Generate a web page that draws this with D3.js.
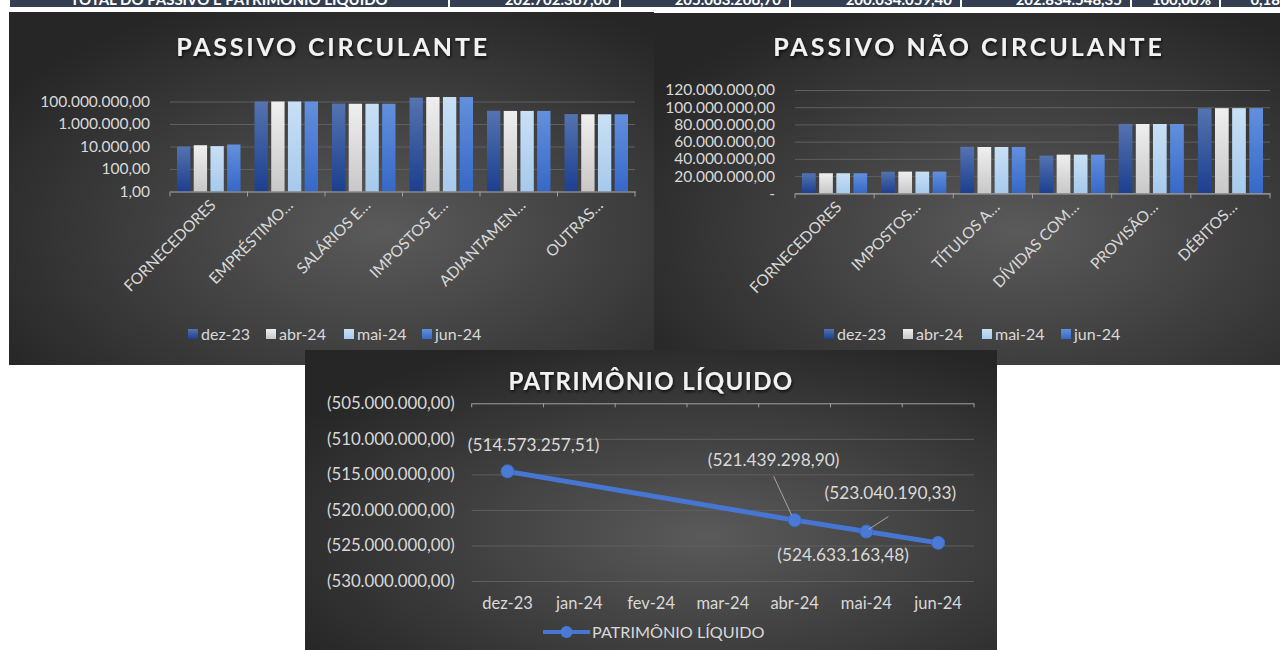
<!DOCTYPE html>
<html>
<head>
<meta charset="utf-8">
<script src="https://cdn.jsdelivr.net/npm/d3@7"></script>
<style>
  body { margin: 0; background: #fff; overflow: hidden; }
  svg { display: block; font-family: Lato, "Open Sans", sans-serif; }
</style>
</head>
<body>
<svg id="chart" width="1280" height="650"></svg>
<script>
// ---- data ----
const series = ["dez-23", "abr-24", "mai-24", "jun-24"];

const circCats = ["FORNECEDORES", "EMPRÉSTIMO…", "SALÁRIOS E…", "IMPOSTOS E…", "ADIANTAMEN…", "OUTRAS…"];
const circDez = [10000, 100000000, 65000000, 220000000, 15000000, 7600000];
const circAbr = [13000, 100000000, 63000000, 250000000, 14500000, 7300000];
const circMai = [10800, 100000000, 63000000, 250000000, 14500000, 7300000];
const circJun = [15000, 100000000, 63000000, 250000000, 14500000, 7300000];
const circTicks = [1, 100, 10000, 1000000, 100000000];

const naoCats = ["FORNECEDORES", "IMPOSTOS…", "TÍTULOS A…", "DÍVIDAS COM…", "PROVISÃO…", "DÉBITOS…"];
const naoDez = [23300000, 25100000, 54000000, 43700000, 80600000, 98800000];
const naoAbr = [23300000, 25200000, 53800000, 44900000, 80500000, 98900000];
const naoMai = [23300000, 25200000, 53800000, 44900000, 80500000, 98900000];
const naoJun = [23300000, 25200000, 53800000, 44900000, 80500000, 98900000];
const naoTicks = [0, 20000000, 40000000, 60000000, 80000000, 100000000, 120000000];

const plMonths = ["dez-23", "jan-24", "fev-24", "mar-24", "abr-24", "mai-24", "jun-24"];
const plValues = [-514573257.51, null, null, null, -521439298.90, -523040190.33, -524633163.48];
const plTicks = [-505000000, -510000000, -515000000, -520000000, -525000000, -530000000];

// remnant of the table row above the charts (only its lower edge is in the picture)
const topRowTexts = ["TOTAL DO PASSIVO E PATRIMÔNIO LÍQUIDO", "202.702.367,00", "205.063.206,70",
  "200.034.059,40", "202.834.548,35", "100,00%", "0,18"];
const topRowEdges = [10, 450, 621, 791, 962, 1132, 1221, 1290];

// ---- helpers ----
const br = d3.formatLocale({decimal: ",", thousands: ".", grouping: [3], currency: ["R$ ", ""]});
const f2 = br.format(",.2f");
const acc = v => v === 0 ? "-" : (v < 0 ? "(" + f2(-v) + ")" : f2(v));

const svg = d3.select("#chart");
const defs = svg.append("defs");

const bg = defs.append("radialGradient").attr("id", "bg")
  .attr("cx", "58%").attr("cy", "62%").attr("r", "70%");
bg.append("stop").attr("offset", "0%").attr("stop-color", "#5a5a5a");
bg.append("stop").attr("offset", "100%").attr("stop-color", "#262626");

const barColors = [["#5573b0", "#1c3f8f"], ["#efefef", "#c8c8c8"], ["#c9e0f5", "#a6c9ec"], ["#6390dc", "#3668c8"]];
barColors.forEach((c, i) => {
  const g = defs.append("linearGradient").attr("id", "bar" + i)
    .attr("x1", 0).attr("y1", 0).attr("x2", 0).attr("y2", 1);
  g.append("stop").attr("offset", "0%").attr("stop-color", c[0]);
  g.append("stop").attr("offset", "100%").attr("stop-color", c[1]);
});

const shadow = defs.append("filter").attr("id", "shadow")
  .attr("x", "-10%").attr("y", "-30%").attr("width", "120%").attr("height", "160%");
shadow.append("feDropShadow").attr("dx", 1).attr("dy", 2).attr("stdDeviation", 1.5)
  .attr("flood-color", "#000").attr("flood-opacity", 0.7);

const txt = "#d9d9d9", grid = "#5f5f5f", axisCol = "#a0a0a0";

// ---- table row strip at the very top ----
const strip = svg.append("g");
strip.append("clipPath").attr("id", "stripClip").append("rect")
  .attr("x", 0).attr("y", 0).attr("width", 1280).attr("height", 7);
const cells = strip.append("g").attr("clip-path", "url(#stripClip)");
topRowTexts.forEach((t, i) => {
  const x0 = topRowEdges[i], x1 = topRowEdges[i + 1] - 2;
  cells.append("rect").attr("x", x0).attr("y", -10).attr("width", x1 - x0).attr("height", 17)
    .attr("fill", "#333f50");
  cells.append("text")
    .attr("x", i === 0 ? (x0 + x1) / 2 : x1 - 8).attr("y", 4.5)
    .attr("text-anchor", i === 0 ? "middle" : "end")
    .attr("fill", "#fff").attr("font-size", 15).attr("font-weight", 700)
    .text(t);
});

// ---- bar chart panels ----
function barPanel(cfg) {
  const g = svg.append("g");
  g.append("rect").attr("x", cfg.box[0]).attr("y", cfg.box[1])
    .attr("width", cfg.box[2]).attr("height", cfg.box[3]).attr("fill", "url(#bg)");

  g.append("text").attr("x", cfg.titleX).attr("y", cfg.titleY)
    .attr("text-anchor", "middle").attr("fill", "#f2f2f2")
    .attr("font-size", 25).attr("font-weight", 700).attr("letter-spacing", cfg.titleSpacing)
    .attr("filter", "url(#shadow)").text(cfg.title);

  const [px0, px1, py0, py1] = cfg.plot;
  const y = cfg.y;
  const x0 = d3.scaleBand().domain(cfg.cats).range([px0, px1]);
  const x1 = d3.scaleBand().domain(series)
    .range([7, x0.step() - 7]).paddingInner(0.2);

  // gridlines + y labels
  const yAxis = g.append("g").attr("transform", `translate(${px0},0)`)
    .call(d3.axisLeft(y).tickValues(cfg.ticks).tickFormat(acc)
      .tickSize(-(px1 - px0)).tickPadding(20));
  yAxis.select(".domain").remove();
  yAxis.selectAll(".tick line").attr("stroke", grid);
  yAxis.selectAll(".tick text").attr("fill", txt).attr("font-size", 15.5)
    .attr("font-family", "Lato, sans-serif");

  const data = cfg.cats.map((c, i) => ({cat: c, vals: cfg.values.map(a => a[i])}));
  const grp = g.selectAll(".grp").data(data).join("g")
    .attr("transform", d => `translate(${x0(d.cat)},0)`);
  grp.selectAll("rect").data(d => d.vals.map((v, k) => ({s: series[k], k, v})))
    .join("rect")
    .attr("x", d => x1(d.s)).attr("width", x1.bandwidth())
    .attr("y", d => y(d.v)).attr("height", d => py1 - y(d.v))
    .attr("fill", d => `url(#bar${d.k})`);

  // category axis
  const xAxis = g.append("g").attr("transform", `translate(0,${py1})`)
    .call(d3.axisBottom(x0).tickSize(0).tickFormat(""));
  xAxis.select(".domain").attr("stroke", axisCol).attr("stroke-width", 1.2);
  xAxis.selectAll(".tick").remove();
  xAxis.selectAll(".bound").data(d3.range(cfg.cats.length + 1)).join("line")
    .attr("x1", i => px0 + i * x0.step()).attr("x2", i => px0 + i * x0.step())
    .attr("y1", 0).attr("y2", 5).attr("stroke", axisCol);
  g.selectAll(".catlab").data(cfg.cats).join("text")
    .attr("transform", d => `translate(${x0(d) + x0.bandwidth() / 2 + 4},${py1 + 11}) rotate(-45)`)
    .attr("text-anchor", "end").attr("dy", "0.35em")
    .attr("fill", txt).attr("font-size", 15.5).text(d => d);

  // legend
  const lg = g.selectAll(".leg").data(series).join("g")
    .attr("transform", (d, i) => `translate(${cfg.legX + i * cfg.legStep},${cfg.legY})`);
  lg.append("rect").attr("x", 0).attr("y", -5).attr("width", 10).attr("height", 10)
    .attr("fill", (d, i) => `url(#bar${i})`);
  lg.append("text").attr("x", 13).attr("dy", "0.35em").attr("fill", txt)
    .attr("font-size", 16).text(d => d);
}

barPanel({
  box: [9, 12, 645, 353], title: "PASSIVO CIRCULANTE", titleX: 333, titleY: 56, titleSpacing: 2.8,
  plot: [170, 635, 101.5, 191.5], cats: circCats,
  values: [circDez, circAbr, circMai, circJun], ticks: circTicks,
  y: d3.scaleLog().domain([1, 100000000]).range([191.5, 101.5]),
  legX: 188, legStep: 78, legY: 334
});

barPanel({
  box: [654, 13, 626, 352], title: "PASSIVO NÃO CIRCULANTE", titleX: 969, titleY: 56, titleSpacing: 3,
  plot: [795, 1270, 90, 193.3], cats: naoCats,
  values: [naoDez, naoAbr, naoMai, naoJun], ticks: naoTicks,
  y: d3.scaleLinear().domain([0, 120000000]).range([193.3, 90]),
  legX: 824, legStep: 79, legY: 334
});

// ---- line chart panel ----
(function () {
  const g = svg.append("g");
  g.append("rect").attr("x", 305).attr("y", 350).attr("width", 692).attr("height", 300)
    .attr("fill", "url(#bg)");
  g.append("text").attr("x", 651).attr("y", 390)
    .attr("text-anchor", "middle").attr("fill", "#f2f2f2")
    .attr("font-size", 24).attr("font-weight", 700).attr("letter-spacing", 1.4)
    .attr("filter", "url(#shadow)").text("PATRIMÔNIO LÍQUIDO");

  const px0 = 471.7, px1 = 974, py0 = 403.3, py1 = 581;
  const x = d3.scaleBand().domain(plMonths).range([px0, px1]);
  const y = d3.scaleLinear().domain([-505000000, -530000000]).range([py0, py1]);
  const cx = m => x(m) + x.bandwidth() / 2;

  const yAxis = g.append("g").attr("transform", `translate(${px0},0)`)
    .call(d3.axisLeft(y).tickValues(plTicks).tickFormat(acc)
      .tickSize(-(px1 - px0)).tickPadding(17));
  yAxis.select(".domain").remove();
  yAxis.selectAll(".tick line").attr("stroke", (d, i) => i === 0 ? axisCol : grid);
  yAxis.selectAll(".tick text").attr("fill", txt).attr("font-size", 16.8)
    .attr("font-family", "Lato, sans-serif");

  // category axis sits on top (values are negative), labels low
  g.selectAll(".bound").data(d3.range(plMonths.length + 1)).join("line")
    .attr("x1", i => px0 + i * x.step()).attr("x2", i => px0 + i * x.step())
    .attr("y1", py0).attr("y2", py0 + 4).attr("stroke", axisCol);
  const xAxis = g.append("g").attr("transform", `translate(0,${py1})`)
    .call(d3.axisBottom(x).tickSize(0).tickPadding(16));
  xAxis.select(".domain").remove();
  xAxis.selectAll(".tick text").attr("fill", txt).attr("font-size", 16.5)
    .attr("font-family", "Lato, sans-serif");

  const pts = plMonths.map((m, i) => ({m, v: plValues[i]})).filter(d => d.v !== null);
  const line = d3.line().x(d => cx(d.m)).y(d => y(d.v));
  g.append("path").datum(pts).attr("d", line)
    .attr("fill", "none").attr("stroke", "#4676d2").attr("stroke-width", 5)
    .attr("stroke-linejoin", "round");
  g.selectAll(".mk").data(pts).join("circle")
    .attr("cx", d => cx(d.m)).attr("cy", d => y(d.v)).attr("r", 6.5)
    .attr("fill", "#4a7ad6").attr("stroke", "#3f6cc4").attr("stroke-width", 1);

  // data labels, offsets relative to each point; leader lines for two of them
  const labelPos = [[26, -26, null], [-21, -60, [-21, -44, -3, -5]], [24, -39, [22, -15, 2, -2]], [-95, 12, null]];
  pts.forEach((d, i) => {
    const p = labelPos[i], X = cx(d.m), Y = y(d.v);
    if (p[2]) g.append("line")
      .attr("x1", X + p[2][0]).attr("y1", Y + p[2][1])
      .attr("x2", X + p[2][2]).attr("y2", Y + p[2][3])
      .attr("stroke", "#a6a6a6").attr("stroke-width", 1);
    g.append("text").attr("x", X + p[0]).attr("y", Y + p[1]).attr("dy", "0.35em")
      .attr("text-anchor", "middle").attr("fill", txt).attr("font-size", 17.3)
      .text(acc(d.v));
  });

  // legend
  const lg = g.append("g").attr("transform", "translate(543,632)");
  lg.append("line").attr("x1", 0).attr("x2", 47).attr("stroke", "#4676d2").attr("stroke-width", 4);
  lg.append("circle").attr("cx", 23.5).attr("r", 6).attr("fill", "#4a7ad6");
  lg.append("text").attr("x", 49).attr("dy", "0.35em").attr("fill", txt)
    .attr("font-size", 16.2).text("PATRIMÔNIO LÍQUIDO");
})();
</script>
</body>
</html>
